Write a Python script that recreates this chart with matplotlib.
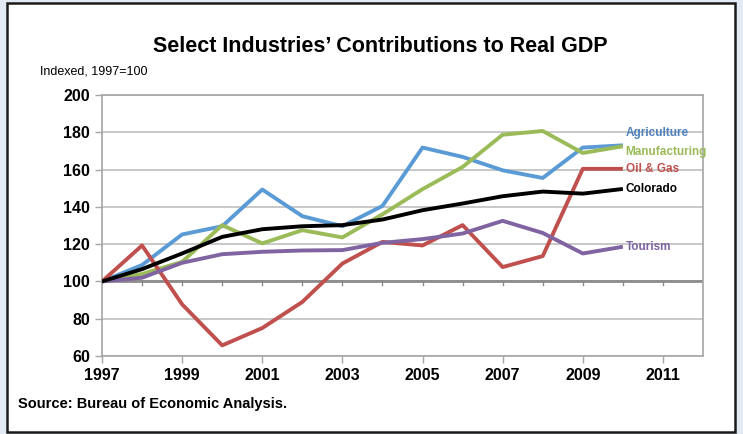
"""Select industries' contributions to real GDP, indexed 1997=100."""

import matplotlib

matplotlib.use("Agg")

import matplotlib.pyplot as plt
from matplotlib.patches import Rectangle

FONT = ["Liberation Sans", "DejaVu Sans"]
plt.rcParams["font.family"] = FONT

years = list(range(1997, 2011))

agriculture = [100, 108.8, 125.2, 129.6, 149.3, 135, 129.6, 140.5,
               171.8, 166.8, 159.6, 155.5, 171.8, 173]
manufacturing = [100, 104, 110.5, 130.2, 120.4, 127.5, 123.6, 136,
                 149.5, 161.4, 178.7, 180.7, 168.9, 172.5]
oil_gas = [100, 119.3, 87.7, 65.7, 75, 89, 109.6, 121.2,
           119.3, 130.2, 107.7, 113.6, 160.4, 160.4]
colorado = [100, 106.6, 115, 123.9, 128, 129.6, 130.2, 133.2,
            138.2, 141.8, 145.7, 148.2, 147.1, 149.6]
tourism = [100, 102, 110, 114.6, 115.9, 116.6, 116.8, 120.7,
           122.7, 125.7, 132.5, 126, 115, 118.6]

series = [
    ("Agriculture", agriculture, "#5B9BD5", "#4F81BD", 9),
    ("Manufacturing", manufacturing, "#9BBB59", "#9BBB59", -4),
    ("Oil & Gas", oil_gas, "#C0504D", "#C0504D", 0),
    ("Tourism", tourism, "#8064A2", "#8064A2", 0),
    ("Colorado", colorado, "#000000", "#000000", 0),
]

fig = plt.figure(figsize=(7.43, 4.34), dpi=100)
fig.patch.set_facecolor("#E4EAF3")
fig.patches.append(Rectangle((7 / 743, 2 / 434), 728 / 743, 429 / 434,
                             transform=fig.transFigure, facecolor="white",
                             edgecolor="#1a1a1a", linewidth=1.8, zorder=-10))

ax = fig.add_axes([102 / 743, 1 - 356 / 434, 601 / 743, 261 / 434])
ax.set_facecolor("white")

for name, vals, color, tcolor, dy in series:
    ax.plot(years, vals, color=color, linewidth=2.8, solid_capstyle="butt",
            zorder=3)
    ax.annotate(name, (years[-1], vals[-1]), xytext=(2, dy),
                textcoords="offset points", va="center", ha="left",
                color=tcolor, fontsize=8.5, fontweight="bold",
                annotation_clip=False)

ax.set_xlim(1997, 2012)
ax.set_ylim(60, 200)
ax.set_yticks(range(60, 201, 20))
ax.set_xticks(range(1997, 2012, 2))
ax.grid(axis="y", color="#BFBFBF", linewidth=1.2, zorder=1)
ax.axhline(100, color="#8C8C8C", linewidth=2, zorder=2)
for yr in range(1998, 2012):
    ax.plot([yr, yr], [100, 98.2], color="#8C8C8C", linewidth=1, zorder=2)

for sp in ax.spines.values():
    sp.set_color("#A6A6A6")
    sp.set_linewidth(1.2)
ax.tick_params(colors="#A6A6A6", length=5, width=1, labelcolor="black",
               labelsize=11.5)
for lbl in ax.get_xticklabels() + ax.get_yticklabels():
    lbl.set_fontweight("bold")

fig.text(380 / 743, 1 - 47 / 434, "Select Industries\u2019 Contributions to Real GDP",
         ha="center", va="center", fontsize=15.5, fontweight="bold")
fig.text(40 / 743, 1 - 72 / 434, "Indexed, 1997=100", ha="left", va="center",
         fontsize=9)
fig.text(18 / 743, 1 - 404 / 434, "Source: Bureau of Economic Analysis.",
         ha="left", va="center", fontsize=10.5, fontweight="bold")

fig.savefig("out.png", dpi=100, facecolor=fig.get_facecolor())
plt.close(fig)
